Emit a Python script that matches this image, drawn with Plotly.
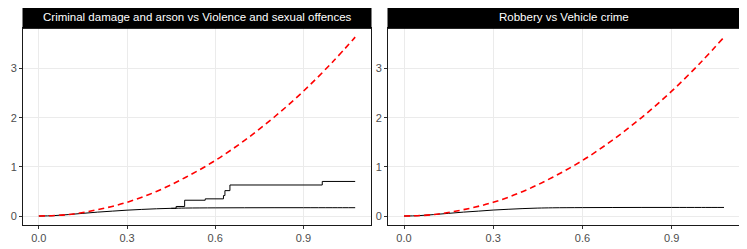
import plotly.graph_objects as go

# ---- data ----
titles = ["Criminal damage and arson vs Violence and sexual offences", "Robbery vs Vehicle crime"]

r_theo = [0, 0.1, 0.2, 0.3, 0.4, 0.5, 0.6, 0.7, 0.8, 0.9, 1.0, 1.076]
k_theo = [0, 0.03, 0.13, 0.28, 0.50, 0.79, 1.13, 1.54, 2.01, 2.54, 3.14, 3.64]

r_smooth = [0, 0.05, 0.1, 0.15, 0.2, 0.25, 0.3, 0.35, 0.4, 0.45, 0.5, 0.6, 0.7, 0.8, 0.9, 1.0, 1.076]
k_smooth_left = [0, 0.008, 0.03, 0.055, 0.08, 0.10, 0.12, 0.135, 0.148, 0.157, 0.163, 0.167, 0.169, 0.17, 0.17, 0.17, 0.17]
k_smooth_right = [0, 0.008, 0.03, 0.055, 0.08, 0.10, 0.122, 0.138, 0.152, 0.162, 0.168, 0.172, 0.174, 0.175, 0.175, 0.175, 0.175]

r_step = [0.45, 0.467, 0.496, 0.566, 0.628, 0.633, 0.650, 0.964, 1.076]
k_step = [0.157, 0.195, 0.322, 0.35, 0.417, 0.517, 0.632, 0.704, 0.704]

x_ticks = [0.0, 0.3, 0.6, 0.9]
x_ticklabels = ["0.0", "0.3", "0.6", "0.9"]
y_ticks = [0, 1, 2, 3]
y_ticklabels = ["0", "1", "2", "3"]

# ---- figure ----
# the page body adds an 8px offset, so the figure is drawn 8px smaller and shifted
OFF = 8
W, H = 747 - OFF, 249 - OFF
fig = go.Figure()

red = dict(color="#FF0000", width=1.6, dash="6px,4px", shape="spline")
blk = dict(color="black", width=1)

# left panel
fig.add_trace(go.Scatter(x=r_smooth, y=k_smooth_left, mode="lines", line=dict(**blk, shape="spline"), xaxis="x", yaxis="y"))
fig.add_trace(go.Scatter(x=r_step, y=k_step, mode="lines", line=dict(**blk, shape="hv"), xaxis="x", yaxis="y"))
fig.add_trace(go.Scatter(x=r_theo, y=k_theo, mode="lines", line=red, xaxis="x", yaxis="y"))

# right panel
fig.add_trace(go.Scatter(x=r_smooth, y=k_smooth_right, mode="lines", line=dict(**blk, shape="spline"), xaxis="x2", yaxis="y2"))
fig.add_trace(go.Scatter(x=r_theo, y=k_theo, mode="lines", line=red, xaxis="x2", yaxis="y2"))

def px(x):
    return (x - OFF) / W

def py(y):
    return (H - (y - OFF)) / H

panel_top = 28.3
panel_bot = 225
strip_top = 5.7
left_dom = [px(23), px(371)]
right_dom = [px(388), px(740)]
ydom = [py(panel_bot), py(panel_top)]

font_tick = dict(family="Liberation Sans, Arial, sans-serif", size=11, color="#4D4D4D")

def xax(dom, anchor):
    return dict(domain=dom, anchor=anchor, range=[-0.0538, 1.1298], tickvals=x_ticks, ticktext=x_ticklabels,
                showgrid=True, gridcolor="#EBEBEB", gridwidth=1, zeroline=False,
                showline=True, linecolor="#1A1A1A", linewidth=1, mirror=True,
                ticks="outside", ticklen=3, tickcolor="#333333", tickwidth=1,
                tickfont=font_tick, automargin=False)

def yax(anchor):
    return dict(domain=ydom, anchor=anchor, range=[-0.182, 3.82], tickvals=y_ticks, ticktext=y_ticklabels,
                showgrid=True, gridcolor="#EBEBEB", gridwidth=1, zeroline=False,
                showline=True, linecolor="#1A1A1A", linewidth=1, mirror=True,
                ticks="outside", ticklen=3, tickcolor="#333333", tickwidth=1,
                tickfont=font_tick, automargin=False)

shapes = []
annotations = []
for dom, title in zip([left_dom, right_dom], titles):
    shapes.append(dict(type="rect", xref="paper", yref="paper", x0=dom[0], x1=dom[1],
                       y0=py(panel_top), y1=py(strip_top),
                       fillcolor="black", line=dict(color="black", width=1), layer="above"))
    annotations.append(dict(xref="paper", yref="paper", x=(dom[0] + dom[1]) / 2,
                            y=py((panel_top + strip_top) / 2), text=title, showarrow=False,
                            font=dict(family="Liberation Sans, Arial, sans-serif", size=11.5, color="white"),
                            xanchor="center", yanchor="middle"))

fig.update_layout(
    width=W, height=H, template="none",
    margin=dict(l=0, r=0, t=0, b=0),
    paper_bgcolor="white", plot_bgcolor="white",
    showlegend=False,
    xaxis=xax(left_dom, "y"), yaxis=yax("x"),
    xaxis2=xax(right_dom, "y2"), yaxis2=yax("x2"),
    shapes=shapes, annotations=annotations,
)

fig.write_html("out.html")
